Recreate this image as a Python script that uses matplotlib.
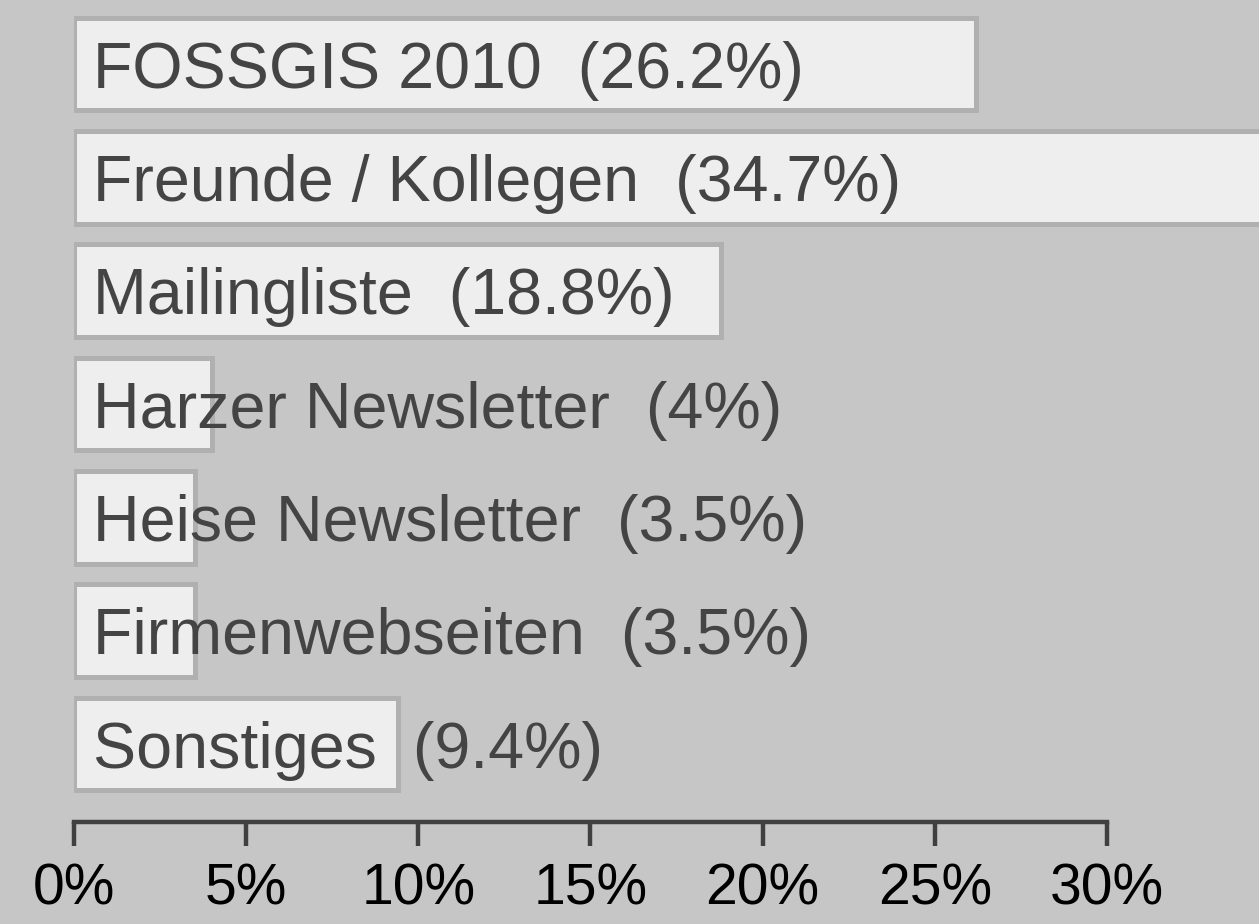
import matplotlib
matplotlib.use('Agg')
import matplotlib.pyplot as plt

# Data
categories = ["FOSSGIS 2010", "Freunde / Kollegen", "Mailingliste", "Harzer Newsletter",
              "Heise Newsletter", "Firmenwebseiten", "Sonstiges"]
shares = [26.2, 34.7, 18.8, 4, 3.5, 3.5, 9.4]
share_labels = ["26.2%", "34.7%", "18.8%", "4%", "3.5%", "3.5%", "9.4%"]
xticks = [0, 5, 10, 15, 20, 25, 30]

bg = '#c5c6c5'
plt.rcParams['font.family'] = ['Liberation Sans', 'DejaVu Sans']

fig = plt.figure(figsize=(12.59, 9.24), dpi=100, facecolor=bg)
# axes starts at the 0% tick and runs off the right edge
ax = fig.add_axes([74 / 1259, 102 / 924, 1 - 74 / 1259, 822 / 924])
ax.set_facecolor(bg)

y = list(range(len(categories)))
ax.barh(y, shares, height=0.82, color='#eeeeee', edgecolor='#b0b0b0', linewidth=3.6)

for i, (cat, lab) in enumerate(zip(categories, share_labels)):
    ax.text(0.55, i, f"{cat}  ({lab})", fontsize=46.5, color='#444444',
            va='center_baseline', ha='left')

ax.set_xlim(0, (1259 - 74) / 34.43)
ax.set_ylim(6 + 0.688, -0.565)

for s in ['top', 'right', 'left']:
    ax.spines[s].set_visible(False)
ax.spines['bottom'].set_bounds(0, 30)
ax.spines['bottom'].set_color('#404040')
ax.spines['bottom'].set_linewidth(3.2)

ax.set_yticks([])
ax.set_xticks(xticks)
ax.set_xticklabels([f"{t}%" for t in xticks])
ax.tick_params(axis='x', direction='out', length=17, width=3.2, color='#404040',
               labelsize=41, labelcolor='black', pad=12)

fig.savefig('out.png', dpi=100, facecolor=bg)
